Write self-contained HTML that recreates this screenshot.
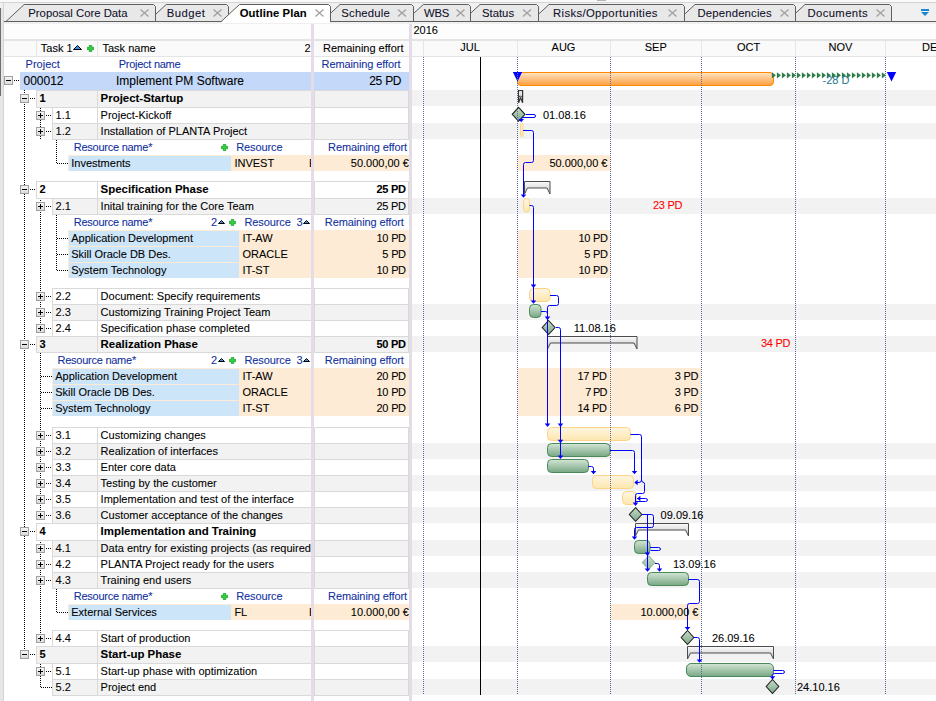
<!DOCTYPE html><html><head><meta charset="utf-8"><style>
html,body{margin:0;padding:0;}
body{width:936px;height:701px;overflow:hidden;position:relative;background:#fff;font-family:"Liberation Sans",sans-serif;font-size:11px;color:#000;}
.t{position:absolute;white-space:nowrap;line-height:1;-webkit-text-stroke:0.08px currentColor;}
.r{position:absolute;box-sizing:border-box;}
svg{position:absolute;left:0;top:0;}
</style></head><body>

<div class="r" style="left:0px;top:0px;width:936px;height:22px;background:#f0f0f0;"></div>
<div class="r" style="left:0px;top:22px;width:936px;height:679px;background:#ffffff;"></div>
<div class="r" style="left:412px;top:90px;width:524px;height:16px;background:#f2f2f2;"></div>
<div class="r" style="left:412px;top:123px;width:524px;height:16px;background:#f2f2f2;"></div>
<div class="r" style="left:412px;top:198px;width:524px;height:16px;background:#f2f2f2;"></div>
<div class="r" style="left:412px;top:304px;width:524px;height:16px;background:#f2f2f2;"></div>
<div class="r" style="left:412px;top:336px;width:524px;height:16px;background:#f2f2f2;"></div>
<div class="r" style="left:412px;top:443px;width:524px;height:16px;background:#f2f2f2;"></div>
<div class="r" style="left:412px;top:475px;width:524px;height:16px;background:#f2f2f2;"></div>
<div class="r" style="left:412px;top:507px;width:524px;height:16px;background:#f2f2f2;"></div>
<div class="r" style="left:412px;top:540px;width:524px;height:16px;background:#f2f2f2;"></div>
<div class="r" style="left:412px;top:572px;width:524px;height:16px;background:#f2f2f2;"></div>
<div class="r" style="left:412px;top:646px;width:524px;height:16px;background:#f2f2f2;"></div>
<div class="r" style="left:412px;top:679px;width:524px;height:16px;background:#f2f2f2;"></div>
<div class="r" style="left:4px;top:22px;width:932px;height:17px;background:#fdfdfd;"></div>
<div class="r" style="left:4px;top:22px;width:932px;height:2px;background:#f0f0f0;"></div>
<div class="r" style="left:4px;top:39px;width:932px;height:2px;background:#e4e4e4;"></div>
<div class="r" style="left:4px;top:41px;width:932px;height:15px;background:#fafafa;"></div>
<div class="r" style="left:4px;top:56px;width:932px;height:1px;background:#e4e4e4;"></div>
<div class="r" style="left:36px;top:41px;width:1px;height:15px;background:#e6e6e6;"></div>
<div class="r" style="left:97px;top:41px;width:1px;height:15px;background:#e6e6e6;"></div>
<div class="r" style="left:423px;top:41px;width:1px;height:15px;background:#e6e6e6;"></div>
<div class="r" style="left:517px;top:41px;width:1px;height:15px;background:#e6e6e6;"></div>
<div class="r" style="left:610px;top:41px;width:1px;height:15px;background:#e6e6e6;"></div>
<div class="r" style="left:701px;top:41px;width:1px;height:15px;background:#e6e6e6;"></div>
<div class="r" style="left:795px;top:41px;width:1px;height:15px;background:#e6e6e6;"></div>
<div class="r" style="left:885px;top:41px;width:1px;height:15px;background:#e6e6e6;"></div>
<div class="t" style="left:40.8px;top:43.44px;">Task 1</div>
<div class="t" style="left:102.5px;top:43.44px;">Task name</div>
<div class="t" style="right:625.5px;top:43.44px;">2</div>
<div class="t" style="right:532.5px;top:43.44px;">Remaining effort</div>
<div class="t" style="left:413.5px;top:25.19px;">2016</div>
<div class="t" style="left:430px;width:80px;text-align:center;top:42.29px">JUL</div>
<div class="t" style="left:523.5px;width:80px;text-align:center;top:42.29px">AUG</div>
<div class="t" style="left:615.75px;width:80px;text-align:center;top:42.29px">SEP</div>
<div class="t" style="left:708.5px;width:80px;text-align:center;top:42.29px">OCT</div>
<div class="t" style="left:800.5px;width:80px;text-align:center;top:42.29px">NOV</div>
<div class="t" style="left:922px;top:42.29px;">DEC</div>
<div class="t" style="left:25.6px;top:59.19px;color:#11309e;">Project</div>
<div class="t" style="left:118.75px;top:59.19px;color:#11309e;letter-spacing:-0.27px;">Project name</div>
<div class="t" style="right:535.5px;top:59.19px;color:#11309e;letter-spacing:-0.1px;">Remaining effort</div>
<div class="r" style="left:20px;top:72px;width:291px;height:18px;background:#c4d8fa;"></div>
<div class="r" style="left:314px;top:72px;width:95px;height:18px;background:#c4d8fa;"></div>
<div class="t" style="left:23.5px;top:75.24px;font-size:12px;">000012</div>
<div class="t" style="left:116px;top:75.24px;font-size:12px;">Implement PM Software</div>
<div class="t" style="right:535px;top:75.24px;font-size:12px;letter-spacing:-0.45px;word-spacing:0.7px;">25 PD</div>
<div class="r" style="left:4px;top:76px;width:9px;height:9px;border:1px solid #a0a0a0;background:linear-gradient(#f4f4f4,#dcdcdc);"></div>
<div class="r" style="left:6px;top:80px;width:5px;height:1px;background:#000;"></div>
<div class="r" style="left:14px;top:80px;width:6px;height:1px;background:repeating-linear-gradient(90deg,#000 0 1px,transparent 1px 2px);"></div>
<svg style="left:73px;top:45px" width="9" height="5" viewBox="0 0 9 5"><path d="M0.5 4.5L4.5 0.5L8.5 4.5Z" fill="#3a8ee6" stroke="#000" stroke-width="1"/></svg>
<svg style="left:87px;top:45px" width="7" height="7" viewBox="0 0 7 7"><path d="M2.3 0.3h2.4v2h2v2.4h-2v2h-2.4v-2h-2v-2.4h2z" fill="#2fd040" stroke="#1e9a2c" stroke-width="0.7"/></svg>
<div class="r" style="left:24px;top:90px;width:1px;height:564px;background:repeating-linear-gradient(180deg,#000 0 1px,transparent 1px 2px);"></div>
<div class="r" style="left:40px;top:106px;width:1px;height:33px;background:repeating-linear-gradient(180deg,#000 0 1px,transparent 1px 2px);"></div>
<div class="r" style="left:56px;top:140px;width:1px;height:24px;background:repeating-linear-gradient(180deg,#000 0 1px,transparent 1px 2px);"></div>
<div class="r" style="left:57px;top:163px;width:11px;height:1px;background:repeating-linear-gradient(90deg,#000 0 1px,transparent 1px 2px);"></div>
<div class="r" style="left:40px;top:198px;width:1px;height:131px;background:repeating-linear-gradient(180deg,#000 0 1px,transparent 1px 2px);"></div>
<div class="r" style="left:56px;top:215px;width:1px;height:56px;background:repeating-linear-gradient(180deg,#000 0 1px,transparent 1px 2px);"></div>
<div class="r" style="left:57px;top:238px;width:11px;height:1px;background:repeating-linear-gradient(90deg,#000 0 1px,transparent 1px 2px);"></div>
<div class="r" style="left:57px;top:254px;width:11px;height:1px;background:repeating-linear-gradient(90deg,#000 0 1px,transparent 1px 2px);"></div>
<div class="r" style="left:57px;top:270px;width:11px;height:1px;background:repeating-linear-gradient(90deg,#000 0 1px,transparent 1px 2px);"></div>
<div class="r" style="left:40px;top:353px;width:1px;height:159px;background:repeating-linear-gradient(180deg,#000 0 1px,transparent 1px 2px);"></div>
<div class="r" style="left:41px;top:376px;width:11px;height:1px;background:repeating-linear-gradient(90deg,#000 0 1px,transparent 1px 2px);"></div>
<div class="r" style="left:41px;top:392px;width:11px;height:1px;background:repeating-linear-gradient(90deg,#000 0 1px,transparent 1px 2px);"></div>
<div class="r" style="left:41px;top:408px;width:11px;height:1px;background:repeating-linear-gradient(90deg,#000 0 1px,transparent 1px 2px);"></div>
<div class="r" style="left:40px;top:540px;width:1px;height:99px;background:repeating-linear-gradient(180deg,#000 0 1px,transparent 1px 2px);"></div>
<div class="r" style="left:56px;top:589px;width:1px;height:24px;background:repeating-linear-gradient(180deg,#000 0 1px,transparent 1px 2px);"></div>
<div class="r" style="left:57px;top:612px;width:11px;height:1px;background:repeating-linear-gradient(90deg,#000 0 1px,transparent 1px 2px);"></div>
<div class="r" style="left:40px;top:662px;width:1px;height:26px;background:repeating-linear-gradient(180deg,#000 0 1px,transparent 1px 2px);"></div>
<div class="r" style="left:36px;top:90px;width:62px;height:18px;background:#f2f2f2;border:1px solid #d9d9d9;"></div>
<div class="r" style="left:97px;top:90px;width:215px;height:18px;background:#f2f2f2;border:1px solid #d9d9d9;"></div>
<div class="r" style="left:314px;top:90px;width:95px;height:18px;background:#f2f2f2;border:1px solid #d9d9d9;"></div>
<div class="r" style="left:20px;top:94px;width:9px;height:9px;border:1px solid #a0a0a0;background:linear-gradient(#f4f4f4,#dcdcdc);"></div>
<div class="r" style="left:22px;top:98px;width:5px;height:1px;background:#000;"></div>
<div class="r" style="left:30px;top:98px;width:6px;height:1px;background:repeating-linear-gradient(90deg,#000 0 1px,transparent 1px 2px);"></div>
<div class="t" style="left:39.4px;top:92.69px;font-weight:700;">1</div>
<div class="t" style="left:100.6px;top:92.71px;font-size:11.45px;font-weight:700;">Project-Startup</div>
<div class="r" style="left:52px;top:107px;width:46px;height:17px;background:#fff;border:1px solid #d9d9d9;"></div>
<div class="r" style="left:97px;top:107px;width:215px;height:17px;background:#fff;border:1px solid #d9d9d9;"></div>
<div class="r" style="left:314px;top:107px;width:95px;height:17px;background:#fff;border:1px solid #d9d9d9;"></div>
<div class="r" style="left:36px;top:111px;width:9px;height:9px;border:1px solid #a0a0a0;background:linear-gradient(#f4f4f4,#dcdcdc);"></div>
<div class="r" style="left:38px;top:115px;width:5px;height:1px;background:#000;"></div>
<div class="r" style="left:40px;top:113px;width:1px;height:5px;background:#000;"></div>
<div class="r" style="left:46px;top:115px;width:6px;height:1px;background:repeating-linear-gradient(90deg,#000 0 1px,transparent 1px 2px);"></div>
<div class="t" style="left:55.6px;top:109.69px;">1.1</div>
<div class="t" style="left:100.6px;top:109.69px;">Project-Kickoff</div>
<div class="r" style="left:52px;top:123px;width:46px;height:17px;background:#f2f2f2;border:1px solid #d9d9d9;"></div>
<div class="r" style="left:97px;top:123px;width:215px;height:17px;background:#f2f2f2;border:1px solid #d9d9d9;"></div>
<div class="r" style="left:314px;top:123px;width:95px;height:17px;background:#f2f2f2;border:1px solid #d9d9d9;"></div>
<div class="r" style="left:36px;top:127px;width:9px;height:9px;border:1px solid #a0a0a0;background:linear-gradient(#f4f4f4,#dcdcdc);"></div>
<div class="r" style="left:38px;top:131px;width:5px;height:1px;background:#000;"></div>
<div class="r" style="left:40px;top:129px;width:1px;height:5px;background:#000;"></div>
<div class="r" style="left:46px;top:131px;width:6px;height:1px;background:repeating-linear-gradient(90deg,#000 0 1px,transparent 1px 2px);"></div>
<div class="t" style="left:55.6px;top:125.69px;">1.2</div>
<div class="t" style="left:100.6px;top:125.69px;">Installation of PLANTA Project</div>
<div class="t" style="left:73.75px;top:142.29px;color:#11309e;letter-spacing:-0.25px;">Resource name*</div>
<svg style="left:221px;top:144px" width="7" height="7" viewBox="0 0 7 7"><path d="M2.3 0.3h2.4v2h2v2.4h-2v2h-2.4v-2h-2v-2.4h2z" fill="#2fd040" stroke="#1e9a2c" stroke-width="0.7"/></svg>
<div class="t" style="left:236.25px;top:142.29px;color:#11309e;letter-spacing:-0.1px;">Resource</div>
<div class="t" style="right:529px;top:142.29px;color:#11309e;letter-spacing:-0.1px;">Remaining effort</div>
<div class="r" style="left:68px;top:155px;width:243px;height:16px;background:#fdebd5;"></div>
<div class="r" style="left:69px;top:156px;width:162px;height:15px;background:#cde5f9;"></div>
<div class="r" style="left:314px;top:155px;width:95px;height:16px;background:#fdebd5;"></div>
<div class="t" style="left:71.25px;top:158.19px;">Investments</div>
<div class="t" style="left:234.4px;top:158.19px;">INVEST</div>
<div class="r" style="left:309px;top:155px;width:2px;height:16px;overflow:hidden"><div class="t" style="left:0;top:3.19px">E</div></div>
<div class="t" style="right:527.1px;top:158.19px;">50.000,00 €</div>
<div class="r" style="left:36px;top:181px;width:62px;height:18px;background:#fff;border:1px solid #d9d9d9;"></div>
<div class="r" style="left:97px;top:181px;width:215px;height:18px;background:#fff;border:1px solid #d9d9d9;"></div>
<div class="r" style="left:314px;top:181px;width:95px;height:18px;background:#fff;border:1px solid #d9d9d9;"></div>
<div class="r" style="left:20px;top:185px;width:9px;height:9px;border:1px solid #a0a0a0;background:linear-gradient(#f4f4f4,#dcdcdc);"></div>
<div class="r" style="left:22px;top:189px;width:5px;height:1px;background:#000;"></div>
<div class="r" style="left:30px;top:189px;width:6px;height:1px;background:repeating-linear-gradient(90deg,#000 0 1px,transparent 1px 2px);"></div>
<div class="t" style="left:39.4px;top:183.69px;font-weight:700;">2</div>
<div class="t" style="left:100.6px;top:183.71px;font-size:11.45px;font-weight:700;">Specification Phase</div>
<div class="t" style="right:530.5px;top:183.69px;font-weight:700;letter-spacing:-0.45px;word-spacing:0.7px;">25 PD</div>
<div class="r" style="left:52px;top:198px;width:46px;height:17px;background:#f2f2f2;border:1px solid #d9d9d9;"></div>
<div class="r" style="left:97px;top:198px;width:215px;height:17px;background:#f2f2f2;border:1px solid #d9d9d9;"></div>
<div class="r" style="left:314px;top:198px;width:95px;height:17px;background:#f2f2f2;border:1px solid #d9d9d9;"></div>
<div class="r" style="left:36px;top:202px;width:9px;height:9px;border:1px solid #a0a0a0;background:linear-gradient(#f4f4f4,#dcdcdc);"></div>
<div class="r" style="left:38px;top:206px;width:5px;height:1px;background:#000;"></div>
<div class="r" style="left:40px;top:204px;width:1px;height:5px;background:#000;"></div>
<div class="r" style="left:46px;top:206px;width:6px;height:1px;background:repeating-linear-gradient(90deg,#000 0 1px,transparent 1px 2px);"></div>
<div class="t" style="left:55.6px;top:200.69px;">2.1</div>
<div class="t" style="left:100.6px;top:200.69px;">Inital training for the Core Team</div>
<div class="t" style="right:530.5px;top:200.69px;letter-spacing:-0.45px;word-spacing:0.7px;">25 PD</div>
<div class="t" style="left:73.75px;top:217.29px;color:#11309e;letter-spacing:-0.25px;">Resource name*</div>
<div class="t" style="right:719px;top:217.29px;color:#11309e;">2</div>
<svg style="left:217.5px;top:220px" width="7" height="4" viewBox="0 0 7 4"><path d="M0.5 3.5L3.5 0.5L6.5 3.5Z" fill="#3a8ee6" stroke="#000" stroke-width="1"/></svg>
<svg style="left:229px;top:219px" width="7" height="7" viewBox="0 0 7 7"><path d="M2.3 0.3h2.4v2h2v2.4h-2v2h-2.4v-2h-2v-2.4h2z" fill="#2fd040" stroke="#1e9a2c" stroke-width="0.7"/></svg>
<div class="t" style="left:244.4px;top:217.29px;color:#11309e;letter-spacing:-0.1px;">Resource</div>
<div class="t" style="right:633.5px;top:217.29px;color:#11309e;">3</div>
<svg style="left:302.75px;top:220px" width="7" height="4" viewBox="0 0 7 4"><path d="M0.5 3.5L3.5 0.5L6.5 3.5Z" fill="#3a8ee6" stroke="#000" stroke-width="1"/></svg>
<div class="t" style="right:532.25px;top:217.29px;color:#11309e;letter-spacing:-0.1px;">Remaining effort</div>
<div class="r" style="left:68px;top:230px;width:243px;height:16px;background:#fdebd5;"></div>
<div class="r" style="left:69px;top:231px;width:170px;height:15px;background:#cde5f9;"></div>
<div class="r" style="left:314px;top:230px;width:95px;height:16px;background:#fdebd5;"></div>
<div class="t" style="left:71.25px;top:233.19px;">Application Development</div>
<div class="t" style="left:242.5px;top:233.19px;">IT-AW</div>
<div class="t" style="right:530.4px;top:233.19px;letter-spacing:-0.45px;word-spacing:0.7px;">10 PD</div>
<div class="r" style="left:68px;top:246px;width:243px;height:16px;background:#fdebd5;"></div>
<div class="r" style="left:69px;top:247px;width:170px;height:15px;background:#cde5f9;"></div>
<div class="r" style="left:314px;top:246px;width:95px;height:16px;background:#fdebd5;"></div>
<div class="t" style="left:71.25px;top:249.19px;">Skill Oracle DB Des.</div>
<div class="t" style="left:242.5px;top:249.19px;">ORACLE</div>
<div class="t" style="right:530.4px;top:249.19px;letter-spacing:-0.45px;word-spacing:0.7px;">5 PD</div>
<div class="r" style="left:68px;top:262px;width:243px;height:16px;background:#fdebd5;"></div>
<div class="r" style="left:69px;top:263px;width:170px;height:15px;background:#cde5f9;"></div>
<div class="r" style="left:314px;top:262px;width:95px;height:16px;background:#fdebd5;"></div>
<div class="t" style="left:71.25px;top:265.19px;">System Technology</div>
<div class="t" style="left:242.5px;top:265.19px;">IT-ST</div>
<div class="t" style="right:530.4px;top:265.19px;letter-spacing:-0.45px;word-spacing:0.7px;">10 PD</div>
<div class="r" style="left:52px;top:288px;width:46px;height:17px;background:#fff;border:1px solid #d9d9d9;"></div>
<div class="r" style="left:97px;top:288px;width:215px;height:17px;background:#fff;border:1px solid #d9d9d9;"></div>
<div class="r" style="left:314px;top:288px;width:95px;height:17px;background:#fff;border:1px solid #d9d9d9;"></div>
<div class="r" style="left:36px;top:292px;width:9px;height:9px;border:1px solid #a0a0a0;background:linear-gradient(#f4f4f4,#dcdcdc);"></div>
<div class="r" style="left:38px;top:296px;width:5px;height:1px;background:#000;"></div>
<div class="r" style="left:40px;top:294px;width:1px;height:5px;background:#000;"></div>
<div class="r" style="left:46px;top:296px;width:6px;height:1px;background:repeating-linear-gradient(90deg,#000 0 1px,transparent 1px 2px);"></div>
<div class="t" style="left:55.6px;top:290.69px;">2.2</div>
<div class="t" style="left:100.6px;top:290.69px;">Document: Specify requirements</div>
<div class="r" style="left:52px;top:304px;width:46px;height:17px;background:#f2f2f2;border:1px solid #d9d9d9;"></div>
<div class="r" style="left:97px;top:304px;width:215px;height:17px;background:#f2f2f2;border:1px solid #d9d9d9;"></div>
<div class="r" style="left:314px;top:304px;width:95px;height:17px;background:#f2f2f2;border:1px solid #d9d9d9;"></div>
<div class="r" style="left:36px;top:308px;width:9px;height:9px;border:1px solid #a0a0a0;background:linear-gradient(#f4f4f4,#dcdcdc);"></div>
<div class="r" style="left:38px;top:312px;width:5px;height:1px;background:#000;"></div>
<div class="r" style="left:40px;top:310px;width:1px;height:5px;background:#000;"></div>
<div class="r" style="left:46px;top:312px;width:6px;height:1px;background:repeating-linear-gradient(90deg,#000 0 1px,transparent 1px 2px);"></div>
<div class="t" style="left:55.6px;top:306.69px;">2.3</div>
<div class="t" style="left:100.6px;top:306.69px;">Customizing Training Project Team</div>
<div class="r" style="left:52px;top:320px;width:46px;height:17px;background:#fff;border:1px solid #d9d9d9;"></div>
<div class="r" style="left:97px;top:320px;width:215px;height:17px;background:#fff;border:1px solid #d9d9d9;"></div>
<div class="r" style="left:314px;top:320px;width:95px;height:17px;background:#fff;border:1px solid #d9d9d9;"></div>
<div class="r" style="left:36px;top:324px;width:9px;height:9px;border:1px solid #a0a0a0;background:linear-gradient(#f4f4f4,#dcdcdc);"></div>
<div class="r" style="left:38px;top:328px;width:5px;height:1px;background:#000;"></div>
<div class="r" style="left:40px;top:326px;width:1px;height:5px;background:#000;"></div>
<div class="r" style="left:46px;top:328px;width:6px;height:1px;background:repeating-linear-gradient(90deg,#000 0 1px,transparent 1px 2px);"></div>
<div class="t" style="left:55.6px;top:322.69px;">2.4</div>
<div class="t" style="left:100.6px;top:322.69px;">Specification phase completed</div>
<div class="r" style="left:36px;top:336px;width:62px;height:17px;background:#f2f2f2;border:1px solid #d9d9d9;"></div>
<div class="r" style="left:97px;top:336px;width:215px;height:17px;background:#f2f2f2;border:1px solid #d9d9d9;"></div>
<div class="r" style="left:314px;top:336px;width:95px;height:17px;background:#f2f2f2;border:1px solid #d9d9d9;"></div>
<div class="r" style="left:20px;top:340px;width:9px;height:9px;border:1px solid #a0a0a0;background:linear-gradient(#f4f4f4,#dcdcdc);"></div>
<div class="r" style="left:22px;top:344px;width:5px;height:1px;background:#000;"></div>
<div class="r" style="left:30px;top:344px;width:6px;height:1px;background:repeating-linear-gradient(90deg,#000 0 1px,transparent 1px 2px);"></div>
<div class="t" style="left:39.4px;top:338.69px;font-weight:700;">3</div>
<div class="t" style="left:100.6px;top:338.71px;font-size:11.45px;font-weight:700;">Realization Phase</div>
<div class="t" style="right:530.5px;top:338.69px;font-weight:700;letter-spacing:-0.45px;word-spacing:0.7px;">50 PD</div>
<div class="t" style="left:57.5px;top:355.29px;color:#11309e;letter-spacing:-0.25px;">Resource name*</div>
<div class="t" style="right:719px;top:355.29px;color:#11309e;">2</div>
<svg style="left:217.5px;top:358px" width="7" height="4" viewBox="0 0 7 4"><path d="M0.5 3.5L3.5 0.5L6.5 3.5Z" fill="#3a8ee6" stroke="#000" stroke-width="1"/></svg>
<svg style="left:229px;top:357px" width="7" height="7" viewBox="0 0 7 7"><path d="M2.3 0.3h2.4v2h2v2.4h-2v2h-2.4v-2h-2v-2.4h2z" fill="#2fd040" stroke="#1e9a2c" stroke-width="0.7"/></svg>
<div class="t" style="left:244.4px;top:355.29px;color:#11309e;letter-spacing:-0.1px;">Resource</div>
<div class="t" style="right:633.5px;top:355.29px;color:#11309e;">3</div>
<svg style="left:302.75px;top:358px" width="7" height="4" viewBox="0 0 7 4"><path d="M0.5 3.5L3.5 0.5L6.5 3.5Z" fill="#3a8ee6" stroke="#000" stroke-width="1"/></svg>
<div class="t" style="right:532.25px;top:355.29px;color:#11309e;letter-spacing:-0.1px;">Remaining effort</div>
<div class="r" style="left:52px;top:368px;width:259px;height:16px;background:#fdebd5;"></div>
<div class="r" style="left:53px;top:369px;width:186px;height:15px;background:#cde5f9;"></div>
<div class="r" style="left:314px;top:368px;width:95px;height:16px;background:#fdebd5;"></div>
<div class="t" style="left:55.25px;top:371.19px;">Application Development</div>
<div class="t" style="left:242.5px;top:371.19px;">IT-AW</div>
<div class="t" style="right:530.4px;top:371.19px;letter-spacing:-0.45px;word-spacing:0.7px;">20 PD</div>
<div class="r" style="left:52px;top:384px;width:259px;height:16px;background:#fdebd5;"></div>
<div class="r" style="left:53px;top:385px;width:186px;height:15px;background:#cde5f9;"></div>
<div class="r" style="left:314px;top:384px;width:95px;height:16px;background:#fdebd5;"></div>
<div class="t" style="left:55.25px;top:387.19px;">Skill Oracle DB Des.</div>
<div class="t" style="left:242.5px;top:387.19px;">ORACLE</div>
<div class="t" style="right:530.4px;top:387.19px;letter-spacing:-0.45px;word-spacing:0.7px;">10 PD</div>
<div class="r" style="left:52px;top:400px;width:259px;height:16px;background:#fdebd5;"></div>
<div class="r" style="left:53px;top:401px;width:186px;height:15px;background:#cde5f9;"></div>
<div class="r" style="left:314px;top:400px;width:95px;height:16px;background:#fdebd5;"></div>
<div class="t" style="left:55.25px;top:403.19px;">System Technology</div>
<div class="t" style="left:242.5px;top:403.19px;">IT-ST</div>
<div class="t" style="right:530.4px;top:403.19px;letter-spacing:-0.45px;word-spacing:0.7px;">20 PD</div>
<div class="r" style="left:52px;top:427px;width:46px;height:17px;background:#fff;border:1px solid #d9d9d9;"></div>
<div class="r" style="left:97px;top:427px;width:215px;height:17px;background:#fff;border:1px solid #d9d9d9;"></div>
<div class="r" style="left:314px;top:427px;width:95px;height:17px;background:#fff;border:1px solid #d9d9d9;"></div>
<div class="r" style="left:36px;top:431px;width:9px;height:9px;border:1px solid #a0a0a0;background:linear-gradient(#f4f4f4,#dcdcdc);"></div>
<div class="r" style="left:38px;top:435px;width:5px;height:1px;background:#000;"></div>
<div class="r" style="left:40px;top:433px;width:1px;height:5px;background:#000;"></div>
<div class="r" style="left:46px;top:435px;width:6px;height:1px;background:repeating-linear-gradient(90deg,#000 0 1px,transparent 1px 2px);"></div>
<div class="t" style="left:55.6px;top:429.69px;">3.1</div>
<div class="t" style="left:100.6px;top:429.69px;">Customizing changes</div>
<div class="r" style="left:52px;top:443px;width:46px;height:17px;background:#f2f2f2;border:1px solid #d9d9d9;"></div>
<div class="r" style="left:97px;top:443px;width:215px;height:17px;background:#f2f2f2;border:1px solid #d9d9d9;"></div>
<div class="r" style="left:314px;top:443px;width:95px;height:17px;background:#f2f2f2;border:1px solid #d9d9d9;"></div>
<div class="r" style="left:36px;top:447px;width:9px;height:9px;border:1px solid #a0a0a0;background:linear-gradient(#f4f4f4,#dcdcdc);"></div>
<div class="r" style="left:38px;top:451px;width:5px;height:1px;background:#000;"></div>
<div class="r" style="left:40px;top:449px;width:1px;height:5px;background:#000;"></div>
<div class="r" style="left:46px;top:451px;width:6px;height:1px;background:repeating-linear-gradient(90deg,#000 0 1px,transparent 1px 2px);"></div>
<div class="t" style="left:55.6px;top:445.69px;">3.2</div>
<div class="t" style="left:100.6px;top:445.69px;">Realization of interfaces</div>
<div class="r" style="left:52px;top:459px;width:46px;height:17px;background:#fff;border:1px solid #d9d9d9;"></div>
<div class="r" style="left:97px;top:459px;width:215px;height:17px;background:#fff;border:1px solid #d9d9d9;"></div>
<div class="r" style="left:314px;top:459px;width:95px;height:17px;background:#fff;border:1px solid #d9d9d9;"></div>
<div class="r" style="left:36px;top:463px;width:9px;height:9px;border:1px solid #a0a0a0;background:linear-gradient(#f4f4f4,#dcdcdc);"></div>
<div class="r" style="left:38px;top:467px;width:5px;height:1px;background:#000;"></div>
<div class="r" style="left:40px;top:465px;width:1px;height:5px;background:#000;"></div>
<div class="r" style="left:46px;top:467px;width:6px;height:1px;background:repeating-linear-gradient(90deg,#000 0 1px,transparent 1px 2px);"></div>
<div class="t" style="left:55.6px;top:461.69px;">3.3</div>
<div class="t" style="left:100.6px;top:461.69px;">Enter core data</div>
<div class="r" style="left:52px;top:475px;width:46px;height:17px;background:#f2f2f2;border:1px solid #d9d9d9;"></div>
<div class="r" style="left:97px;top:475px;width:215px;height:17px;background:#f2f2f2;border:1px solid #d9d9d9;"></div>
<div class="r" style="left:314px;top:475px;width:95px;height:17px;background:#f2f2f2;border:1px solid #d9d9d9;"></div>
<div class="r" style="left:36px;top:479px;width:9px;height:9px;border:1px solid #a0a0a0;background:linear-gradient(#f4f4f4,#dcdcdc);"></div>
<div class="r" style="left:38px;top:483px;width:5px;height:1px;background:#000;"></div>
<div class="r" style="left:40px;top:481px;width:1px;height:5px;background:#000;"></div>
<div class="r" style="left:46px;top:483px;width:6px;height:1px;background:repeating-linear-gradient(90deg,#000 0 1px,transparent 1px 2px);"></div>
<div class="t" style="left:55.6px;top:477.69px;">3.4</div>
<div class="t" style="left:100.6px;top:477.69px;">Testing by the customer</div>
<div class="r" style="left:52px;top:491px;width:46px;height:17px;background:#fff;border:1px solid #d9d9d9;"></div>
<div class="r" style="left:97px;top:491px;width:215px;height:17px;background:#fff;border:1px solid #d9d9d9;"></div>
<div class="r" style="left:314px;top:491px;width:95px;height:17px;background:#fff;border:1px solid #d9d9d9;"></div>
<div class="r" style="left:36px;top:495px;width:9px;height:9px;border:1px solid #a0a0a0;background:linear-gradient(#f4f4f4,#dcdcdc);"></div>
<div class="r" style="left:38px;top:499px;width:5px;height:1px;background:#000;"></div>
<div class="r" style="left:40px;top:497px;width:1px;height:5px;background:#000;"></div>
<div class="r" style="left:46px;top:499px;width:6px;height:1px;background:repeating-linear-gradient(90deg,#000 0 1px,transparent 1px 2px);"></div>
<div class="t" style="left:55.6px;top:493.69px;">3.5</div>
<div class="t" style="left:100.6px;top:493.69px;">Implementation and test of the interface</div>
<div class="r" style="left:52px;top:507px;width:46px;height:17px;background:#f2f2f2;border:1px solid #d9d9d9;"></div>
<div class="r" style="left:97px;top:507px;width:215px;height:17px;background:#f2f2f2;border:1px solid #d9d9d9;"></div>
<div class="r" style="left:314px;top:507px;width:95px;height:17px;background:#f2f2f2;border:1px solid #d9d9d9;"></div>
<div class="r" style="left:36px;top:511px;width:9px;height:9px;border:1px solid #a0a0a0;background:linear-gradient(#f4f4f4,#dcdcdc);"></div>
<div class="r" style="left:38px;top:515px;width:5px;height:1px;background:#000;"></div>
<div class="r" style="left:40px;top:513px;width:1px;height:5px;background:#000;"></div>
<div class="r" style="left:46px;top:515px;width:6px;height:1px;background:repeating-linear-gradient(90deg,#000 0 1px,transparent 1px 2px);"></div>
<div class="t" style="left:55.6px;top:509.69px;">3.6</div>
<div class="t" style="left:100.6px;top:509.69px;">Customer acceptance of the changes</div>
<div class="r" style="left:36px;top:523px;width:62px;height:18px;background:#fff;border:1px solid #d9d9d9;"></div>
<div class="r" style="left:97px;top:523px;width:215px;height:18px;background:#fff;border:1px solid #d9d9d9;"></div>
<div class="r" style="left:314px;top:523px;width:95px;height:18px;background:#fff;border:1px solid #d9d9d9;"></div>
<div class="r" style="left:20px;top:527px;width:9px;height:9px;border:1px solid #a0a0a0;background:linear-gradient(#f4f4f4,#dcdcdc);"></div>
<div class="r" style="left:22px;top:531px;width:5px;height:1px;background:#000;"></div>
<div class="r" style="left:30px;top:531px;width:6px;height:1px;background:repeating-linear-gradient(90deg,#000 0 1px,transparent 1px 2px);"></div>
<div class="t" style="left:39.4px;top:525.69px;font-weight:700;">4</div>
<div class="t" style="left:100.6px;top:525.71px;font-size:11.45px;font-weight:700;">Implementation and Training</div>
<div class="r" style="left:52px;top:540px;width:46px;height:17px;background:#f2f2f2;border:1px solid #d9d9d9;"></div>
<div class="r" style="left:97px;top:540px;width:215px;height:17px;background:#f2f2f2;border:1px solid #d9d9d9;"></div>
<div class="r" style="left:314px;top:540px;width:95px;height:17px;background:#f2f2f2;border:1px solid #d9d9d9;"></div>
<div class="r" style="left:36px;top:544px;width:9px;height:9px;border:1px solid #a0a0a0;background:linear-gradient(#f4f4f4,#dcdcdc);"></div>
<div class="r" style="left:38px;top:548px;width:5px;height:1px;background:#000;"></div>
<div class="r" style="left:40px;top:546px;width:1px;height:5px;background:#000;"></div>
<div class="r" style="left:46px;top:548px;width:6px;height:1px;background:repeating-linear-gradient(90deg,#000 0 1px,transparent 1px 2px);"></div>
<div class="t" style="left:55.6px;top:542.69px;">4.1</div>
<div class="t" style="left:100.6px;top:542.69px;">Data entry for existing projects (as required</div>
<div class="r" style="left:52px;top:556px;width:46px;height:17px;background:#fff;border:1px solid #d9d9d9;"></div>
<div class="r" style="left:97px;top:556px;width:215px;height:17px;background:#fff;border:1px solid #d9d9d9;"></div>
<div class="r" style="left:314px;top:556px;width:95px;height:17px;background:#fff;border:1px solid #d9d9d9;"></div>
<div class="r" style="left:36px;top:560px;width:9px;height:9px;border:1px solid #a0a0a0;background:linear-gradient(#f4f4f4,#dcdcdc);"></div>
<div class="r" style="left:38px;top:564px;width:5px;height:1px;background:#000;"></div>
<div class="r" style="left:40px;top:562px;width:1px;height:5px;background:#000;"></div>
<div class="r" style="left:46px;top:564px;width:6px;height:1px;background:repeating-linear-gradient(90deg,#000 0 1px,transparent 1px 2px);"></div>
<div class="t" style="left:55.6px;top:558.69px;">4.2</div>
<div class="t" style="left:100.6px;top:558.69px;">PLANTA Project ready for the users</div>
<div class="r" style="left:52px;top:572px;width:46px;height:17px;background:#f2f2f2;border:1px solid #d9d9d9;"></div>
<div class="r" style="left:97px;top:572px;width:215px;height:17px;background:#f2f2f2;border:1px solid #d9d9d9;"></div>
<div class="r" style="left:314px;top:572px;width:95px;height:17px;background:#f2f2f2;border:1px solid #d9d9d9;"></div>
<div class="r" style="left:36px;top:576px;width:9px;height:9px;border:1px solid #a0a0a0;background:linear-gradient(#f4f4f4,#dcdcdc);"></div>
<div class="r" style="left:38px;top:580px;width:5px;height:1px;background:#000;"></div>
<div class="r" style="left:40px;top:578px;width:1px;height:5px;background:#000;"></div>
<div class="r" style="left:46px;top:580px;width:6px;height:1px;background:repeating-linear-gradient(90deg,#000 0 1px,transparent 1px 2px);"></div>
<div class="t" style="left:55.6px;top:574.69px;">4.3</div>
<div class="t" style="left:100.6px;top:574.69px;">Training end users</div>
<div class="t" style="left:73.75px;top:591.29px;color:#11309e;letter-spacing:-0.25px;">Resource name*</div>
<svg style="left:221px;top:593px" width="7" height="7" viewBox="0 0 7 7"><path d="M2.3 0.3h2.4v2h2v2.4h-2v2h-2.4v-2h-2v-2.4h2z" fill="#2fd040" stroke="#1e9a2c" stroke-width="0.7"/></svg>
<div class="t" style="left:236.25px;top:591.29px;color:#11309e;letter-spacing:-0.1px;">Resource</div>
<div class="t" style="right:529px;top:591.29px;color:#11309e;letter-spacing:-0.1px;">Remaining effort</div>
<div class="r" style="left:68px;top:604px;width:243px;height:16px;background:#fdebd5;"></div>
<div class="r" style="left:69px;top:605px;width:162px;height:15px;background:#cde5f9;"></div>
<div class="r" style="left:314px;top:604px;width:95px;height:16px;background:#fdebd5;"></div>
<div class="t" style="left:71.25px;top:607.19px;">External Services</div>
<div class="t" style="left:234.4px;top:607.19px;">FL</div>
<div class="r" style="left:309px;top:604px;width:2px;height:16px;overflow:hidden"><div class="t" style="left:0;top:3.19px">E</div></div>
<div class="t" style="right:527.1px;top:607.19px;">10.000,00 €</div>
<div class="r" style="left:52px;top:630px;width:46px;height:17px;background:#fff;border:1px solid #d9d9d9;"></div>
<div class="r" style="left:97px;top:630px;width:215px;height:17px;background:#fff;border:1px solid #d9d9d9;"></div>
<div class="r" style="left:314px;top:630px;width:95px;height:17px;background:#fff;border:1px solid #d9d9d9;"></div>
<div class="r" style="left:36px;top:634px;width:9px;height:9px;border:1px solid #a0a0a0;background:linear-gradient(#f4f4f4,#dcdcdc);"></div>
<div class="r" style="left:38px;top:638px;width:5px;height:1px;background:#000;"></div>
<div class="r" style="left:40px;top:636px;width:1px;height:5px;background:#000;"></div>
<div class="r" style="left:46px;top:638px;width:6px;height:1px;background:repeating-linear-gradient(90deg,#000 0 1px,transparent 1px 2px);"></div>
<div class="t" style="left:55.6px;top:632.69px;">4.4</div>
<div class="t" style="left:100.6px;top:632.69px;">Start of production</div>
<div class="r" style="left:36px;top:646px;width:62px;height:18px;background:#f2f2f2;border:1px solid #d9d9d9;"></div>
<div class="r" style="left:97px;top:646px;width:215px;height:18px;background:#f2f2f2;border:1px solid #d9d9d9;"></div>
<div class="r" style="left:314px;top:646px;width:95px;height:18px;background:#f2f2f2;border:1px solid #d9d9d9;"></div>
<div class="r" style="left:20px;top:650px;width:9px;height:9px;border:1px solid #a0a0a0;background:linear-gradient(#f4f4f4,#dcdcdc);"></div>
<div class="r" style="left:22px;top:654px;width:5px;height:1px;background:#000;"></div>
<div class="r" style="left:30px;top:654px;width:6px;height:1px;background:repeating-linear-gradient(90deg,#000 0 1px,transparent 1px 2px);"></div>
<div class="t" style="left:39.4px;top:648.69px;font-weight:700;">5</div>
<div class="t" style="left:100.6px;top:648.71px;font-size:11.45px;font-weight:700;">Start-up Phase</div>
<div class="r" style="left:52px;top:663px;width:46px;height:17px;background:#fff;border:1px solid #d9d9d9;"></div>
<div class="r" style="left:97px;top:663px;width:215px;height:17px;background:#fff;border:1px solid #d9d9d9;"></div>
<div class="r" style="left:314px;top:663px;width:95px;height:17px;background:#fff;border:1px solid #d9d9d9;"></div>
<div class="r" style="left:36px;top:667px;width:9px;height:9px;border:1px solid #a0a0a0;background:linear-gradient(#f4f4f4,#dcdcdc);"></div>
<div class="r" style="left:38px;top:671px;width:5px;height:1px;background:#000;"></div>
<div class="r" style="left:40px;top:669px;width:1px;height:5px;background:#000;"></div>
<div class="r" style="left:46px;top:671px;width:6px;height:1px;background:repeating-linear-gradient(90deg,#000 0 1px,transparent 1px 2px);"></div>
<div class="t" style="left:55.6px;top:665.69px;">5.1</div>
<div class="t" style="left:100.6px;top:665.69px;">Start-up phase with optimization</div>
<div class="r" style="left:52px;top:679px;width:46px;height:17px;background:#f2f2f2;border:1px solid #d9d9d9;"></div>
<div class="r" style="left:97px;top:679px;width:215px;height:17px;background:#f2f2f2;border:1px solid #d9d9d9;"></div>
<div class="r" style="left:314px;top:679px;width:95px;height:17px;background:#f2f2f2;border:1px solid #d9d9d9;"></div>
<div class="r" style="left:41px;top:687px;width:11px;height:1px;background:repeating-linear-gradient(90deg,#000 0 1px,transparent 1px 2px);"></div>
<div class="t" style="left:55.6px;top:681.69px;">5.2</div>
<div class="t" style="left:100.6px;top:681.69px;">Project end</div>
<div class="r" style="left:311px;top:24px;width:3px;height:677px;background:#e4dde7;"></div>
<div class="r" style="left:409px;top:24px;width:3px;height:677px;background:#e4dde7;"></div>
<div class="r" style="left:0px;top:8px;width:3px;height:693px;background:#e6e6e6;"></div>
<div class="r" style="left:3px;top:2px;width:1px;height:699px;background:#d4d4d4;"></div>
<div class="r" style="left:0px;top:8px;width:1px;height:88px;background:#6e6e6e;"></div>
<svg width="936" height="701" viewBox="0 0 936 701" style="left:0;top:0"><line x1="480.5" y1="57" x2="480.5" y2="695" stroke="#000" stroke-width="1"/><rect x="517.5" y="155" width="93" height="16" fill="#fdebd5"/><rect x="517.5" y="230" width="93" height="48" fill="#fdebd5"/><rect x="517.5" y="368" width="183.5" height="48" fill="#fdebd5"/><rect x="610.5" y="604" width="90" height="16" fill="#fdebd5"/><defs>
<linearGradient id="gy" x1="0" y1="0" x2="0" y2="1"><stop offset="0" stop-color="#fff6e0"/><stop offset="1" stop-color="#fde7b0"/></linearGradient>
<linearGradient id="gg" x1="0" y1="0" x2="0" y2="1"><stop offset="0" stop-color="#d3e5d5"/><stop offset="1" stop-color="#78a784"/></linearGradient>
<linearGradient id="gd" x1="0" y1="0" x2="0" y2="1"><stop offset="0" stop-color="#c6dcc8"/><stop offset="1" stop-color="#7da886"/></linearGradient>
<linearGradient id="go" x1="0" y1="0" x2="0" y2="1"><stop offset="0" stop-color="#ffe3c4"/><stop offset="1" stop-color="#ffa03e"/></linearGradient>
<linearGradient id="gs" x1="0" y1="0" x2="0" y2="1"><stop offset="0" stop-color="#fbfbfb"/><stop offset="1" stop-color="#c4c4c4"/></linearGradient>
</defs><rect x="517.5" y="72.5" width="256" height="13" rx="3.5" fill="url(#go)" stroke="#ff8a00" stroke-width="1"/><path d="M512.8 72H522.2L517.5 81.6Z" fill="#0000ff"/><path d="M886.8 72H896.2L891.5 81.6Z" fill="#0000ff"/><path d="M771.90 72.2L775.90 75.3L771.90 78.4Z" fill="#2e7d4a"/><path d="M776.90 72.2L780.90 75.3L776.90 78.4Z" fill="#2e7d4a"/><path d="M781.90 72.2L785.90 75.3L781.90 78.4Z" fill="#2e7d4a"/><path d="M786.90 72.2L790.90 75.3L786.90 78.4Z" fill="#2e7d4a"/><path d="M791.90 72.2L795.90 75.3L791.90 78.4Z" fill="#2e7d4a"/><path d="M796.90 72.2L800.90 75.3L796.90 78.4Z" fill="#2e7d4a"/><path d="M801.90 72.2L805.90 75.3L801.90 78.4Z" fill="#2e7d4a"/><path d="M806.90 72.2L810.90 75.3L806.90 78.4Z" fill="#2e7d4a"/><path d="M811.90 72.2L815.90 75.3L811.90 78.4Z" fill="#2e7d4a"/><path d="M816.90 72.2L820.90 75.3L816.90 78.4Z" fill="#2e7d4a"/><path d="M821.90 72.2L825.90 75.3L821.90 78.4Z" fill="#2e7d4a"/><path d="M826.90 72.2L830.90 75.3L826.90 78.4Z" fill="#2e7d4a"/><path d="M831.90 72.2L835.90 75.3L831.90 78.4Z" fill="#2e7d4a"/><path d="M836.90 72.2L840.90 75.3L836.90 78.4Z" fill="#2e7d4a"/><path d="M841.90 72.2L845.90 75.3L841.90 78.4Z" fill="#2e7d4a"/><path d="M846.90 72.2L850.90 75.3L846.90 78.4Z" fill="#2e7d4a"/><path d="M851.90 72.2L855.90 75.3L851.90 78.4Z" fill="#2e7d4a"/><path d="M856.90 72.2L860.90 75.3L856.90 78.4Z" fill="#2e7d4a"/><path d="M861.90 72.2L865.90 75.3L861.90 78.4Z" fill="#2e7d4a"/><path d="M866.90 72.2L870.90 75.3L866.90 78.4Z" fill="#2e7d4a"/><path d="M871.90 72.2L875.90 75.3L871.90 78.4Z" fill="#2e7d4a"/><path d="M876.90 72.2L880.90 75.3L876.90 78.4Z" fill="#2e7d4a"/><path d="M881.90 72.2L885.90 75.3L881.90 78.4Z" fill="#2e7d4a"/><path d="M518.6 90.6H522.6V102.8L520.6 97.6L518.6 102.8Z" fill="#e6e6e6" stroke="#333" stroke-width="1.2"/><rect x="519.3" y="91.3" width="2.6" height="4.6" fill="#fafafa"/><path d="M518.6 96.3H522.6" stroke="#333" stroke-width="1"/><path d="M520.6 91.5V97.5" stroke="#bbb" stroke-width="0.6"/><path d="M518.6 107.3L525.0 114.3L518.6 121.3L512.2 114.3Z" fill="url(#gd)" stroke="#1e1e1e" stroke-width="1.05"/><rect x="520.5" y="123.5" width="2.5" height="13.0" rx="1.2" fill="url(#gy)" stroke="#fbd488" stroke-width="1"/><path d="M524.5 181.5H550V194.0L547 188.0H527.5L524.5 194.0Z" fill="url(#gs)" stroke="#4d4d4d" stroke-width="1"/><rect x="523.5" y="198.5" width="6.0" height="13.5" rx="3" fill="url(#gy)" stroke="#fbd488" stroke-width="1"/><rect x="529.5" y="288.5" width="20.5" height="13.0" rx="4" fill="url(#gy)" stroke="#fbd488" stroke-width="1"/><rect x="529.5" y="304.5" width="11.5" height="13.0" rx="4" fill="url(#gg)" stroke="#4a8a5a" stroke-width="1"/><path d="M548.6 320.5L555.0 327.5L548.6 334.5L542.2 327.5Z" fill="url(#gd)" stroke="#1e1e1e" stroke-width="1.05"/><path d="M547.5 336.5H637V349.0L634 343.0H550.5L547.5 349.0Z" fill="url(#gs)" stroke="#4d4d4d" stroke-width="1"/><rect x="547.5" y="427.5" width="83.0" height="13.0" rx="4" fill="url(#gy)" stroke="#fbd488" stroke-width="1"/><rect x="547.5" y="443.5" width="62.5" height="13.0" rx="4" fill="url(#gg)" stroke="#4a8a5a" stroke-width="1"/><rect x="547.5" y="459.5" width="41.0" height="13.0" rx="4" fill="url(#gg)" stroke="#4a8a5a" stroke-width="1"/><rect x="592.5" y="475.5" width="41.0" height="13.0" rx="4" fill="url(#gy)" stroke="#fbd488" stroke-width="1"/><rect x="622.5" y="491.5" width="14.0" height="13.0" rx="4" fill="url(#gy)" stroke="#fbd488" stroke-width="1"/><path d="M635.6 507.7L641.9 514.5L635.6 521.3L629.3000000000001 514.5Z" fill="url(#gd)" stroke="#1e1e1e" stroke-width="1.05"/><path d="M635.5 523.5H688.5V536.0L685.5 530.0H638.5L635.5 536.0Z" fill="url(#gs)" stroke="#4d4d4d" stroke-width="1"/><rect x="634.5" y="540.5" width="15.5" height="13.0" rx="4" fill="url(#gg)" stroke="#4a8a5a" stroke-width="1"/><path d="M648.7 556.1L655.0 562.6L648.7 569.1L642.4000000000001 562.6Z" fill="url(#gd)" stroke="#86ab8e" stroke-width="1.1" opacity="0.85"/><rect x="647.5" y="572.5" width="41.0" height="13.0" rx="4" fill="url(#gg)" stroke="#4a8a5a" stroke-width="1"/><path d="M687.5 630.5L693.8 637.5L687.5 644.5L681.2 637.5Z" fill="url(#gd)" stroke="#1e1e1e" stroke-width="1.05"/><path d="M687.5 646.5H773.5V659.0L770.5 653.0H690.5L687.5 659.0Z" fill="url(#gs)" stroke="#4d4d4d" stroke-width="1"/><rect x="686.5" y="663.5" width="87.0" height="13.0" rx="4.5" fill="url(#gg)" stroke="#4a8a5a" stroke-width="1"/><path d="M772.5 679.5L778.8 686.5L772.5 693.5L766.2 686.5Z" fill="url(#gd)" stroke="#1e1e1e" stroke-width="1.05"/><line x1="423.5" y1="57" x2="423.5" y2="695" stroke="#5a6a9a" stroke-width="1" stroke-dasharray="1 1"/><line x1="517.5" y1="57" x2="517.5" y2="695" stroke="#5a6a9a" stroke-width="1" stroke-dasharray="1 1"/><line x1="610.5" y1="57" x2="610.5" y2="695" stroke="#5a6a9a" stroke-width="1" stroke-dasharray="1 1"/><line x1="701.5" y1="57" x2="701.5" y2="695" stroke="#5a6a9a" stroke-width="1" stroke-dasharray="1 1"/><line x1="795.5" y1="57" x2="795.5" y2="695" stroke="#5a6a9a" stroke-width="1" stroke-dasharray="1 1"/><line x1="885.5" y1="57" x2="885.5" y2="695" stroke="#5a6a9a" stroke-width="1" stroke-dasharray="1 1"/><path d="M526 114.5H534Q535.5 114.5 535.5 116Q535.5 117.5 534 117.5H523Q521.5 117.5 521.5 119V120" fill="none" stroke="#0000ff" stroke-width="1"/><path d="M518.4000000000001 118.89999999999999H524.0L521.2 122.3Z" fill="#0000ff"/><path d="M523 130.5H531.5Q533.5 130.5 533.5 132.5V160.5Q533.5 162.5 531.5 162.5H525.5Q523.5 162.5 523.5 164.5V196" fill="none" stroke="#0000ff" stroke-width="1"/><path d="M520.7 194.4H526.3L523.5 197.8Z" fill="#0000ff"/><path d="M529.5 205.5H531.5Q533.5 205.5 533.5 207.5V302" fill="none" stroke="#0000ff" stroke-width="1"/><path d="M530.7 284.6H536.3L533.5 288Z" fill="#0000ff"/><path d="M530.7 300.40000000000003H536.3L533.5 303.8Z" fill="#0000ff"/><path d="M550 295.5H556.5Q558.5 295.5 558.5 297.5V303.5Q558.5 305.5 556.5 305.5H549.5Q547.5 305.5 547.5 307.5V318" fill="none" stroke="#0000ff" stroke-width="1"/><path d="M541 311.5H545.5Q547.5 311.5 547.5 313.5" fill="none" stroke="#0000ff" stroke-width="1"/><path d="M544.7 316.6H550.3L547.5 320Z" fill="#0000ff"/><path d="M556 327.5H558.5Q560.5 327.5 560.5 329.5V457" fill="none" stroke="#0000ff" stroke-width="1"/><path d="M547.5 318V425" fill="none" stroke="#0000ff" stroke-width="1"/><path d="M544.7 423.6H550.3L547.5 427Z" fill="#0000ff"/><path d="M557.7 423.6H563.3L560.5 427Z" fill="#0000ff"/><path d="M557.7 439.8H563.3L560.5 443.2Z" fill="#0000ff"/><path d="M557.7 455.6H563.3L560.5 459Z" fill="#0000ff"/><path d="M630.5 434.5H639.5Q641.5 434.5 641.5 436.5V480" fill="none" stroke="#0000ff" stroke-width="1"/><path d="M641.5 480Q641.5 482.5 639 482.5H636.5" fill="none" stroke="#0000ff" stroke-width="1"/><path d="M637.6999999999999 479.7V485.3L634.3 482.5Z" fill="#0000ff"/><path d="M641.5 480Q641.5 482.5 644 482.5Q644.5 482.5 644.5 484.5V491.5Q644.5 493.5 642.5 493.5H637.5Q635.5 493.5 635.5 495.5V503" fill="none" stroke="#0000ff" stroke-width="1"/><path d="M632.7 502.6H638.3L635.5 506Z" fill="#0000ff"/><path d="M610 450.5H632.5Q634.5 450.5 634.5 452.5V472" fill="none" stroke="#0000ff" stroke-width="1"/><path d="M631.7 470.90000000000003H637.3L634.5 474.3Z" fill="#0000ff"/><path d="M588.5 466.5H591.5Q593.5 466.5 593.5 468.5V472" fill="none" stroke="#0000ff" stroke-width="1"/><path d="M590.7 470.90000000000003H596.3L593.5 474.3Z" fill="#0000ff"/><path d="M637 498.5H645.5Q647.5 498.5 647.5 500Q647.5 501.5 645.5 501.5H636" fill="none" stroke="#0000ff" stroke-width="1"/><path d="M640.4 495.7V501.3L637 498.5Z" fill="#0000ff"/><path d="M642 514.5H651.5Q653.5 514.5 653.5 516.5V525.5Q653.5 527.5 651.5 527.5H636.5Q634.5 527.5 634.5 529.5V537" fill="none" stroke="#0000ff" stroke-width="1"/><path d="M631.7 536.4H637.3L634.5 539.8Z" fill="#0000ff"/><path d="M647.5 515V569" fill="none" stroke="#0000ff" stroke-width="1"/><path d="M644.7 552.6H650.3L647.5 556Z" fill="#0000ff"/><path d="M644.7 568.4H650.3L647.5 571.8Z" fill="#0000ff"/><path d="M650 547.5H658.5Q660.5 547.5 660.5 549Q660.5 550.5 658.5 550.5H650.5" fill="none" stroke="#0000ff" stroke-width="1"/><path d="M655 563.5H657.5Q659.5 563.5 659.5 565.5V569.5" fill="none" stroke="#0000ff" stroke-width="1"/><path d="M656.7 568.4H662.3L659.5 571.8Z" fill="#0000ff"/><path d="M688.5 579.5H697.5Q699.5 579.5 699.5 581.5V601.5Q699.5 603.5 697.5 603.5H689.5Q687.5 603.5 687.5 605.5V628" fill="none" stroke="#0000ff" stroke-width="1"/><path d="M684.7 626.9H690.3L687.5 630.3Z" fill="#0000ff"/><path d="M693.8 637.5H697.5Q699.5 637.5 699.5 639.5V660" fill="none" stroke="#0000ff" stroke-width="1"/><path d="M696.7 659.4H702.3L699.5 662.8Z" fill="#0000ff"/><path d="M773.5 670.5H782.5Q784.5 670.5 784.5 672Q784.5 673.5 782.5 673.5H774.5Q772.5 673.5 772.5 675.5V677" fill="none" stroke="#0000ff" stroke-width="1"/><path d="M769.7 676.2H775.3L772.5 679.6Z" fill="#0000ff"/></svg>
<div class="t" style="left:543px;top:110.19px;">01.08.16</div>
<div class="t" style="right:328.5px;top:157.99px;">50.000,00 €</div>
<div class="t" style="right:254px;top:200.49px;color:#ff0000;letter-spacing:-0.45px;word-spacing:0.7px;">23 PD</div>
<div class="t" style="right:328.5px;top:232.99px;letter-spacing:-0.45px;word-spacing:0.7px;">10 PD</div>
<div class="t" style="right:328.5px;top:248.89px;letter-spacing:-0.45px;word-spacing:0.7px;">5 PD</div>
<div class="t" style="right:328.5px;top:264.79px;letter-spacing:-0.45px;word-spacing:0.7px;">10 PD</div>
<div class="t" style="left:573.8px;top:322.99px;">11.08.16</div>
<div class="t" style="right:146px;top:337.69px;color:#ff0000;letter-spacing:-0.45px;word-spacing:0.7px;">34 PD</div>
<div class="t" style="right:329.5px;top:371.09px;letter-spacing:-0.45px;word-spacing:0.7px;">17 PD</div>
<div class="t" style="right:238px;top:371.09px;letter-spacing:-0.45px;word-spacing:0.7px;">3 PD</div>
<div class="t" style="right:329.5px;top:387.29px;letter-spacing:-0.95px;word-spacing:0.7px;">7 PD</div>
<div class="t" style="right:238px;top:387.29px;letter-spacing:-0.45px;word-spacing:0.7px;">3 PD</div>
<div class="t" style="right:329.5px;top:402.99px;letter-spacing:-0.45px;word-spacing:0.7px;">14 PD</div>
<div class="t" style="right:238px;top:402.99px;letter-spacing:-0.45px;word-spacing:0.7px;">6 PD</div>
<div class="t" style="left:660.6px;top:509.69px;">09.09.16</div>
<div class="t" style="left:673px;top:559.19px;">13.09.16</div>
<div class="t" style="right:237.5px;top:607.29px;">10.000,00 €</div>
<div class="t" style="left:711.9px;top:632.99px;">26.09.16</div>
<div class="t" style="left:797px;top:681.69px;">24.10.16</div>
<div class="t" style="left:822.5px;top:75.39px;color:#2b7a94;">-28 D</div>
<div class="r" style="left:0px;top:0px;width:936px;height:2px;background:#f9f9f9;"></div>
<div class="r" style="left:0px;top:2px;width:936px;height:1px;background:#d4d4d4;"></div>
<div class="r" style="left:597px;top:0px;width:9px;height:1px;background:#b4b4b4;"></div>
<svg width="936" height="24" viewBox="0 0 936 24" style="left:0;top:0"><line x1="4" y1="21.5" x2="936" y2="21.5" stroke="#5e5e5e" stroke-width="1"/><path d="M786.70 21.5 L805.00 4.5 L889.50 4.5 L891.50 6.5 L891.50 21.5 Z" fill="#e8e8e8" stroke="#5e5e5e" stroke-width="1"/><path d="M876.5 9.5 L884.5 16.5 M884.5 9.5 L876.5 16.5" stroke="#a0a0a0" stroke-width="1.3"/><path d="M676.70 21.5 L695.00 4.5 L793.50 4.5 L795.50 6.5 L795.50 21.5 Z" fill="#e8e8e8" stroke="#5e5e5e" stroke-width="1"/><path d="M780.5 9.5 L788.5 16.5 M788.5 9.5 L780.5 16.5" stroke="#a0a0a0" stroke-width="1.3"/><path d="M530.70 21.5 L549.00 4.5 L682.50 4.5 L684.50 6.5 L684.50 21.5 Z" fill="#e8e8e8" stroke="#5e5e5e" stroke-width="1"/><path d="M668.5 9.5 L676.5 16.5 M676.5 9.5 L668.5 16.5" stroke="#a0a0a0" stroke-width="1.3"/><path d="M461.70 21.5 L480.00 4.5 L536.50 4.5 L538.50 6.5 L538.50 21.5 Z" fill="#e8e8e8" stroke="#5e5e5e" stroke-width="1"/><path d="M523.0 9.5 L531.0 16.5 M531.0 9.5 L523.0 16.5" stroke="#a0a0a0" stroke-width="1.3"/><path d="M405.00 21.5 L423.30 4.5 L468.50 4.5 L470.50 6.5 L470.50 21.5 Z" fill="#e8e8e8" stroke="#5e5e5e" stroke-width="1"/><path d="M456.5 9.5 L464.5 16.5 M464.5 9.5 L456.5 16.5" stroke="#a0a0a0" stroke-width="1.3"/><path d="M321.70 21.5 L340.00 4.5 L411.50 4.5 L413.50 6.5 L413.50 21.5 Z" fill="#e8e8e8" stroke="#5e5e5e" stroke-width="1"/><path d="M398.0 9.5 L406.0 16.5 M406.0 9.5 L398.0 16.5" stroke="#a0a0a0" stroke-width="1.3"/><path d="M147.90 21.5 L166.20 4.5 L226.50 4.5 L228.50 6.5 L228.50 21.5 Z" fill="#e8e8e8" stroke="#5e5e5e" stroke-width="1"/><path d="M213.5 9.5 L221.5 16.5 M221.5 9.5 L213.5 16.5" stroke="#a0a0a0" stroke-width="1.3"/><path d="M5.90 21.5 L24.20 4.5 L153.50 4.5 L155.50 6.5 L155.50 21.5 Z" fill="#e8e8e8" stroke="#5e5e5e" stroke-width="1"/><path d="M140.5 9.5 L148.5 16.5 M148.5 9.5 L140.5 16.5" stroke="#a0a0a0" stroke-width="1.3"/><path d="M221.20 21.5 L239.50 4.5 L328.50 4.5 L330.50 6.5 L330.50 21.5 Z" fill="#ffffff" stroke="none"/><path d="M221.20 21.5 L239.50 4.5 L328.50 4.5 L330.50 6.5 L330.50 21.5" fill="none" stroke="#5e5e5e" stroke-width="1"/><rect x="222.20" y="21" width="107.80" height="2" fill="#fff"/><path d="M315.5 9.5 L323.5 16.5 M323.5 9.5 L315.5 16.5" stroke="#a0a0a0" stroke-width="1.3"/><path d="M921 9h8v2h-8z M921 12h8l-4 4z" fill="#1a86d0"/></svg>
<div class="t" style="left:28.3px;top:8.13px;font-size:11.3px;color:#10102a;">Proposal Core Data</div>
<div class="t" style="left:166.7px;top:8.13px;font-size:11.3px;color:#10102a;letter-spacing:0.5px;">Budget</div>
<div class="t" style="left:341.3px;top:8.13px;font-size:11.3px;color:#10102a;letter-spacing:0.2px;">Schedule</div>
<div class="t" style="left:424px;top:8.13px;font-size:11.3px;color:#10102a;letter-spacing:-0.2px;">WBS</div>
<div class="t" style="left:482px;top:8.13px;font-size:11.3px;color:#10102a;">Status</div>
<div class="t" style="left:553px;top:8.13px;font-size:11.3px;color:#10102a;letter-spacing:0.36px;">Risks/Opportunities</div>
<div class="t" style="left:697.5px;top:8.13px;font-size:11.3px;color:#10102a;letter-spacing:0.18px;">Dependencies</div>
<div class="t" style="left:807.5px;top:8.13px;font-size:11.3px;color:#10102a;letter-spacing:0.37px;">Documents</div>
<div class="t" style="left:239.7px;top:8.13px;font-size:11.3px;font-weight:700;letter-spacing:0.1px;">Outline Plan</div>
</body></html>
